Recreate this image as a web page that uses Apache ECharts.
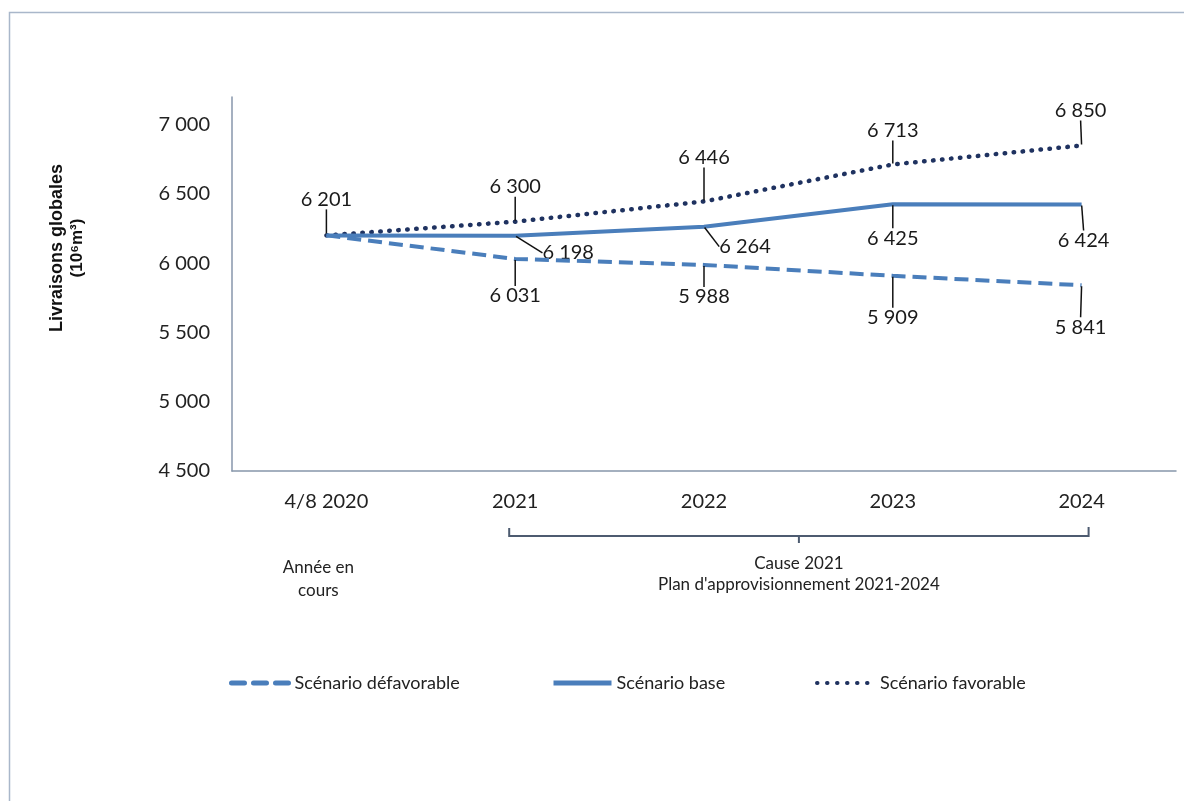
<!DOCTYPE html>
<html>
<head>
<meta charset="utf-8">
<script src="https://cdn.jsdelivr.net/npm/echarts@6/dist/echarts.min.js"></script>
<style>
html,body{margin:0;padding:0;background:#fff;}
#c{width:1184px;height:801px;}
</style>
</head>
<body>
<div id="c"></div>
<script>
var categories = ['4/8 2020', '2021', '2022', '2023', '2024'];
var seriesNames = ['Scénario défavorable', 'Scénario base', 'Scénario favorable'];
var defavorable = [6201, 6031, 5988, 5909, 5841];
var base = [6201, 6198, 6264, 6425, 6424];
var favorable = [6201, 6300, 6446, 6713, 6850];
var yTicks = [4500, 5000, 5500, 6000, 6500, 7000];
var yAxisTitle = 'Livraisons globales';
var yAxisUnit = '(10\u2076m\u00b3)';
var noteLeft = 'Année en\ncours';
var noteBracket = "Cause 2021\nPlan d'approvisionnement 2021-2024";

// label offsets (dx, dy) from each point; null = no label
var offDef = [null, [0, 37], [0, 32], [0, 42], [-1, 42]];
var offBase = [null, [53, 17], [41, 20], [0, 34], [2, 36]];
var offFav = [[0, -36], [0, -35], [0, -44], [0, -34], [-1, -35]];
var offsets = [offDef, offBase, offFav];

function fmt(v) {
  var s = String(Math.round(v));
  return s.replace(/\B(?=(\d{3})+(?!\d))/g, ' ');
}

var FONT = 'Lato';
var chart = echarts.init(document.getElementById('c'), null, {renderer: 'canvas'});

var lineStyles = [
  {color: '#4a7ebb', width: 4, type: [14, 7], cap: 'butt'},
  {color: '#4a7ebb', width: 4, type: 'solid'},
  {color: '#1f3260', width: 4.5, type: [0.5, 8.5], cap: 'round'}
];
var legendLineStyles = [
  {color: '#4a7ebb', width: 5, type: [13, 9], cap: 'round'},
  {color: '#4a7ebb', width: 5, type: 'solid'},
  {color: '#1f3260', width: 4, type: [0.5, 9.5], cap: 'round'}
];
var legendLefts = [229, 551, 815];

function mkSeries(name, data, idx) {
  return {
    name: name,
    type: 'line',
    data: data,
    symbol: 'circle',
    symbolSize: 2,
    itemStyle: {color: 'rgba(0,0,0,0)'},
    lineStyle: lineStyles[idx],
    z: 3 - idx,
    label: {
      show: true,
      position: 'inside',
      fontFamily: FONT,
      fontSize: 20,
      color: '#1a1a1a',
      formatter: function (p) {
        return offsets[idx][p.dataIndex] ? fmt(p.value) : '';
      }
    },
    labelLine: {
      show: true,
      lineStyle: {color: '#111', width: 1.5}
    },
    labelLayout: function (p) {
      var o = offsets[idx][p.dataIndex];
      if (!o) return {};
      return {dx: o[0], dy: o[1]};
    },
    emphasis: {disabled: true},
    animation: false
  };
}

var legends = seriesNames.map(function (n, i) {
  return {
    left: legendLefts[i],
    top: 674,
    padding: 0,
    itemWidth: 58,
    itemHeight: 18,
    selectedMode: false,
    textStyle: {fontFamily: FONT, fontSize: 18, color: '#222'},
    data: [{name: n, lineStyle: legendLineStyles[i], itemStyle: {color: 'rgba(0,0,0,0)'}}]
  };
});

var option = {
  animation: false,
  grid: {left: 232, right: 8, top: 97, bottom: 330, containLabel: false},
  legend: legends,
  xAxis: {
    type: 'category',
    data: categories,
    boundaryGap: true,
    axisLine: {lineStyle: {color: '#8796ab', width: 1.5}},
    axisTick: {show: false},
    axisLabel: {fontFamily: FONT, fontSize: 20, color: '#222', margin: 21},
    splitLine: {show: false}
  },
  yAxis: {
    type: 'value',
    min: 4500,
    max: 7200,
    interval: 500,
    axisLine: {show: true, lineStyle: {color: '#8796ab', width: 1.5}},
    axisTick: {show: false},
    splitLine: {show: false},
    axisLabel: {
      fontFamily: FONT, fontSize: 20, color: '#222', margin: 22,
      formatter: function (v) { return yTicks.indexOf(v) >= 0 ? fmt(v) : ''; }
    }
  },
  series: [
    mkSeries(seriesNames[0], defavorable, 0),
    mkSeries(seriesNames[1], base, 1),
    mkSeries(seriesNames[2], favorable, 2)
  ]
};
chart.setOption(option);

var pL = chart.convertToPixel({xAxisIndex: 0}, categories[1]);
var pR = chart.convertToPixel({xAxisIndex: 0}, categories[4]);
var p0 = chart.convertToPixel({xAxisIndex: 0}, categories[0]);
var bl = pL - 6, br = pR + 7, bc = (bl + br) / 2, by = 536;

chart.setOption({
  graphic: [
    {type: 'rect', shape: {x: 9.5, y: 12.5, width: 1300, height: 900},
     style: {fill: 'none', stroke: '#a9b7ca', lineWidth: 1.5}, silent: true},
    {type: 'text', x: 57, y: 248, rotation: Math.PI / 2,
     style: {text: yAxisTitle, font: 'bold 18px "Liberation Sans", Arial', fill: '#111', align: 'center', verticalAlign: 'middle'}},
    {type: 'text', x: 77, y: 248, rotation: Math.PI / 2,
     style: {text: yAxisUnit, font: 'bold 17px "Liberation Sans", Arial', fill: '#111', align: 'center', verticalAlign: 'middle'}},
    {type: 'polyline', shape: {points: [[bl, by - 8], [bl, by], [br, by], [br, by - 9]]},
     style: {stroke: '#4d5b70', lineWidth: 2, fill: 'none'}},
    {type: 'line', shape: {x1: bc, y1: by, x2: bc, y2: by + 7},
     style: {stroke: '#4d5b70', lineWidth: 2}},
    {type: 'text', x: bc, y: 574,
     style: {text: noteBracket, font: '17px ' + FONT, fill: '#222', align: 'center', verticalAlign: 'middle', lineHeight: 21}},
    {type: 'text', x: p0 - 8, y: 579,
     style: {text: noteLeft, font: '17px ' + FONT, fill: '#222', align: 'center', verticalAlign: 'middle', lineHeight: 23}}
  ]
});
</script>
</body>
</html>
